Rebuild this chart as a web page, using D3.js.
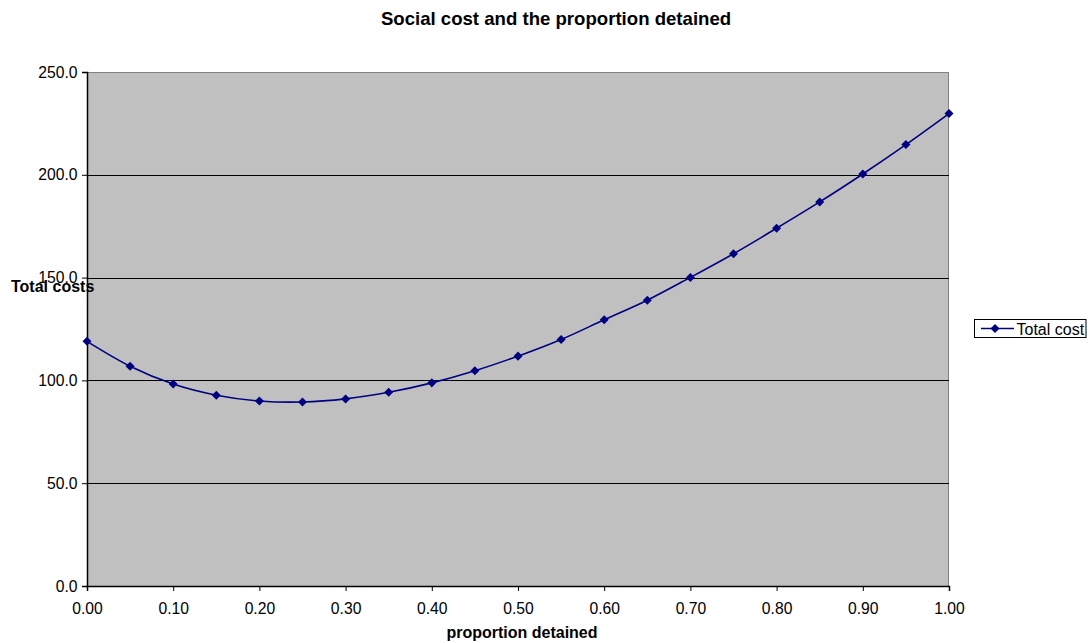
<!DOCTYPE html>
<html>
<head>
<meta charset="utf-8">
<script src="https://cdn.jsdelivr.net/npm/d3@7"></script>
<style>
  html, body { margin: 0; padding: 0; background: #ffffff; }
  svg { display: block; font-family: "Liberation Sans", Arial, sans-serif; }
</style>
</head>
<body>
<svg id="chart" width="1090" height="643"></svg>
<script>
const proportions = [0.00, 0.05, 0.10, 0.15, 0.20, 0.25, 0.30, 0.35, 0.40, 0.45, 0.50,
                     0.55, 0.60, 0.65, 0.70, 0.75, 0.80, 0.85, 0.90, 0.95, 1.00];
const totalCost = [119.0, 106.9, 98.2, 92.8, 90.0, 89.5, 91.0, 94.2, 98.8, 104.7, 111.8,
                   119.9, 129.5, 139.0, 150.1, 161.6, 174.0, 186.8, 200.4, 214.7, 229.8];
const xTicks = [0, 0.1, 0.2, 0.3, 0.4, 0.5, 0.6, 0.7, 0.8, 0.9, 1.0];
const yTicks = [0, 50, 100, 150, 200, 250];
const seriesName = "Total cost";
const titleText = "Social cost and the proportion detained";
const xTitle = "proportion detained";
const yTitle = "Total costs";

(function () {
const svg = d3.select("#chart");
const pL = 87, pR = 949, pT = 72, pB = 586;
const FS = 15.7;

const x = d3.scaleLinear().domain([0, 1]).range([pL, pR]);
const y = d3.scaleLinear().domain([0, 250]).range([pB, pT]);

// plot background
svg.append("rect").attr("x", pL).attr("y", pT)
  .attr("width", pR - pL).attr("height", pB - pT)
  .attr("fill", "#c0c0c0");

// right/top border
svg.append("path")
  .attr("d", `M${pL},${pT + 0.5}H${pR - 0.5}V${pB}`)
  .attr("fill", "none").attr("stroke", "#808080").attr("stroke-width", 1);

// gridlines
svg.append("g").selectAll("line").data(yTicks.filter(d => d > 0 && d < 250)).join("line")
  .attr("x1", pL).attr("x2", pR)
  .attr("y1", d => Math.round(y(d)) + 0.5).attr("y2", d => Math.round(y(d)) + 0.5)
  .attr("stroke", "#000").attr("stroke-width", 1);

// axes
const yAxis = d3.axisLeft(y).tickValues(yTicks).tickFormat(d3.format(".1f")).tickSize(5).tickPadding(4.5);
const gy = svg.append("g").attr("transform", `translate(${pL},0)`).call(yAxis);
gy.select(".domain").attr("stroke", "#000").attr("stroke-width", 1.5);
gy.selectAll(".tick line").attr("stroke", "#000");
gy.selectAll(".tick text").attr("font-size", FS).attr("fill", "#000")
  .attr("font-family", "Liberation Sans, Arial, sans-serif");

const xAxis = d3.axisBottom(x).tickValues(xTicks).tickFormat(d3.format(".2f")).tickSize(5).tickPadding(12);
const gx = svg.append("g").attr("transform", `translate(0,${pB})`).call(xAxis);
gx.select(".domain").attr("stroke", "#000").attr("stroke-width", 1.5);
gx.selectAll(".tick line").attr("stroke", "#000");
gx.selectAll(".tick text").attr("font-size", FS).attr("fill", "#000")
  .attr("font-family", "Liberation Sans, Arial, sans-serif");

// line
const data = proportions.map((p, i) => ({ p, v: totalCost[i] }));
const line = d3.line().x(d => x(d.p)).y(d => y(d.v)).curve(d3.curveCatmullRom.alpha(0));
svg.append("path").datum(data).attr("d", line)
  .attr("fill", "none").attr("stroke", "#000080").attr("stroke-width", 1.6);

// markers
const diamond = d3.symbol().type(d3.symbolDiamond2).size(52);
svg.append("g").selectAll("path").data(data).join("path")
  .attr("transform", d => `translate(${x(d.p)},${y(d.v)})`)
  .attr("d", diamond).attr("fill", "#000080");

// title
svg.append("text").attr("x", 556).attr("y", 24.5).attr("text-anchor", "middle")
  .attr("font-size", 18.6).attr("font-weight", "bold").text(titleText);

// x title
svg.append("text").attr("x", 522).attr("y", 638).attr("text-anchor", "middle")
  .attr("font-size", 16).attr("font-weight", "bold").text(xTitle);

// y title
svg.append("text").attr("x", 11).attr("y", 292)
  .attr("font-size", 16).attr("font-weight", "bold").text(yTitle);

// legend
const lg = svg.append("g");
lg.append("rect").attr("x", 974.5).attr("y", 319.5).attr("width", 111.5).attr("height", 18)
  .attr("fill", "#fff").attr("stroke", "#000").attr("stroke-width", 1);
lg.append("line").attr("x1", 981).attr("x2", 1014).attr("y1", 328.5).attr("y2", 328.5)
  .attr("stroke", "#000080").attr("stroke-width", 1.6);
lg.append("path").attr("transform", "translate(995,328.5)").attr("d", diamond).attr("fill", "#000080");
lg.append("text").attr("x", 1016.5).attr("y", 334.5).attr("font-size", 16).text(seriesName);
})();
</script>
</body>
</html>
